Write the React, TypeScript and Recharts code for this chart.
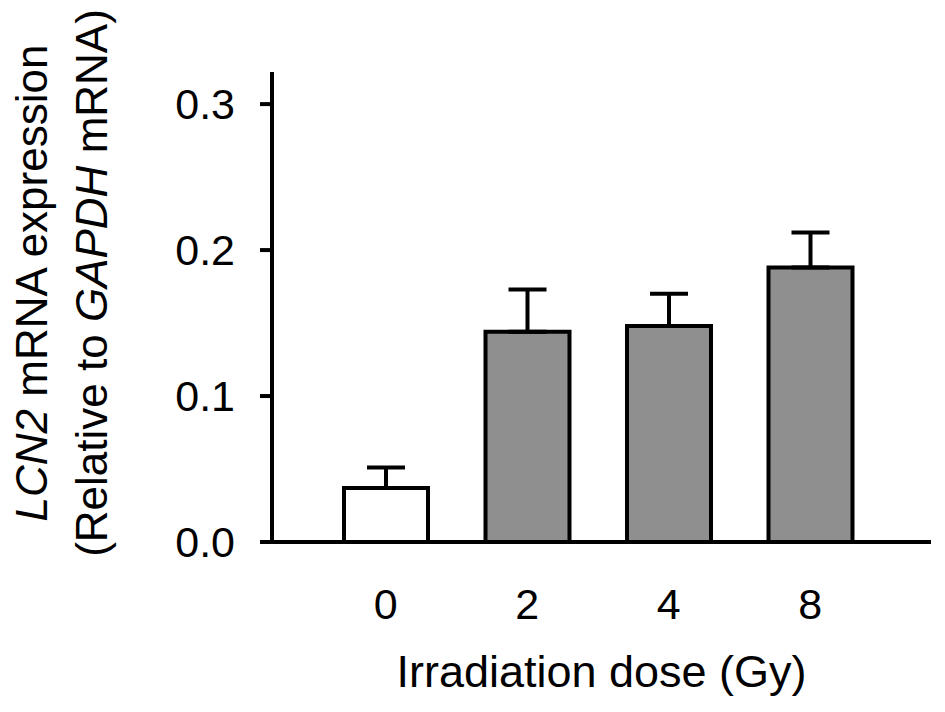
import { BarChart, Bar, XAxis, YAxis, Cell, ErrorBar, Label } from "recharts";

const doses = ["0", "2", "4", "8"];
const expression = [0.037, 0.144, 0.148, 0.188];
const sem = [0.014, 0.029, 0.022, 0.024];
const fills = ["#ffffff", "#8f8f8f", "#8f8f8f", "#8f8f8f"];
const yTicks = [0, 0.1, 0.2, 0.3];

const data = doses.map((d, i) => ({ dose: d, value: expression[i], err: [0, sem[i]] }));

const FONT = '"Liberation Sans", Arial, Helvetica, sans-serif';

const YTitle = (props: any) => {
  const vb = props.viewBox || { x: 0, y: 64, width: 264, height: 470 };
  const cy = vb.y + vb.height / 2 - 24;
  const style = { fontFamily: FONT, fontSize: 44, fill: "#000" };
  return (
    <g>
      <text transform={`translate(${vb.x + 39}, ${cy}) rotate(-90)`} textAnchor="middle" style={style}>
        <tspan fontStyle="italic">LCN2</tspan> mRNA expression
      </text>
      <text transform={`translate(${vb.x + 99}, ${cy}) rotate(-90)`} textAnchor="middle" style={style}>
        (Relative to <tspan fontStyle="italic">GAPDH</tspan> mRNA)
      </text>
    </g>
  );
};

const XTitle = (props: any) => {
  const vb = props.viewBox || { x: 264, y: 534, width: 659, height: 170 };
  return (
    <text
      x={vb.x + vb.width / 2}
      y={vb.y + 145}
      textAnchor="middle"
      style={{ fontFamily: FONT, fontSize: 45, fill: "#000" }}
    >
      Irradiation dose (Gy)
    </text>
  );
};

export default function App() {
  return (
    <div style={{ width: 937, height: 704 }}>
      <BarChart width={937} height={704} data={data} margin={{ top: 64, right: 14, bottom: 0, left: 0 }}>
        <XAxis
          dataKey="dose"
          height={170}
          padding={{ left: 43, right: 50 }}
          axisLine={{ stroke: "#000", strokeWidth: 4 }}
          tickLine={false}
          tickSize={0}
          tickMargin={46}
          tick={{ fill: "#000", fontSize: 43, fontFamily: FONT }}
        >
          <Label content={<XTitle />} />
        </XAxis>
        <YAxis
          width={264}
          domain={[0, 0.322]}
          ticks={yTicks}
          allowDataOverflow
          tickFormatter={(v: number) => v.toFixed(1)}
          axisLine={{ stroke: "#000", strokeWidth: 4 }}
          tickLine={{ stroke: "#000", strokeWidth: 4 }}
          tickSize={12}
          tickMargin={25}
          tick={{ fill: "#000", fontSize: 43, fontFamily: FONT }}
        >
          <Label content={<YTitle />} />
        </YAxis>
        <Bar dataKey="value" barSize={84} stroke="#000" strokeWidth={4} isAnimationActive={false}>
          {data.map((d, i) => (
            <Cell key={d.dose} fill={fills[i]} />
          ))}
          <ErrorBar dataKey="err" direction="y" width={19} stroke="#000" strokeWidth={4} isAnimationActive={false} />
        </Bar>
      </BarChart>
    </div>
  );
}
